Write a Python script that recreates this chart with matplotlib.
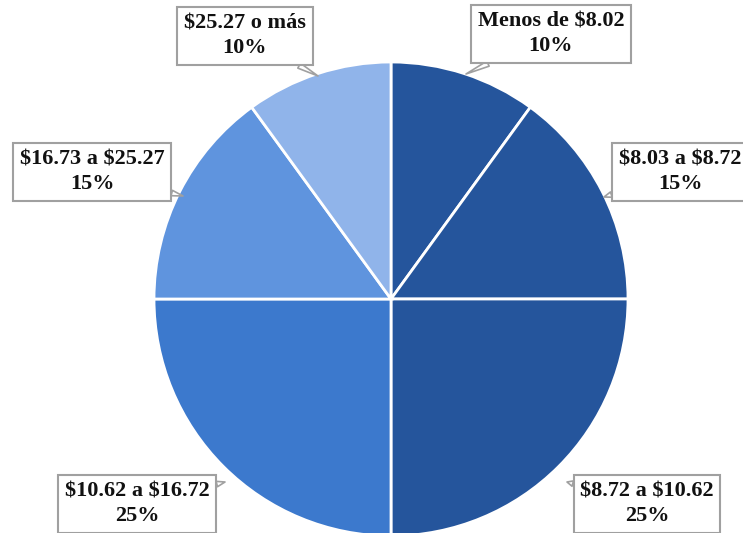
import matplotlib.pyplot as plt

# salary ranges and share of workers
labels = ['Menos de $8.02', '$8.03 a $8.72', '$8.72 a $10.62',
          '$10.62 a $16.72', '$16.73 a $25.27', '$25.27 o más']
values = [10, 15, 25, 25, 15, 10]
colors = ['#25559c', '#25559c', '#25559c', '#3c79cd', '#5f94de', '#90b4ea']

W, H = 743, 533
fig = plt.figure(figsize=(W / 100, H / 100), dpi=100)
ax = fig.add_axes([0, 0, 1, 1])

cx, cy, r = 391, H - 299, 237
ax.pie(values, colors=colors, startangle=90, counterclock=False,
       center=(cx, cy), radius=r, frame=True,
       wedgeprops=dict(edgecolor='white', linewidth=2))
ax.set_xlim(0, W)
ax.set_ylim(0, H)
ax.set_aspect('equal')
ax.axis('off')

# label box centres and the point on the pie each one points at (pixels, top-down)
text_pos = [(551, 34), (680, 172), (647, 504), (137, 504), (92, 172), (245, 36)]
tip_pos = [(466, 74), (604, 197), (567, 482), (225, 482), (183, 196), (318, 76)]

for lab, v, (tx, ty), (px, py) in zip(labels, values, text_pos, tip_pos):
    ax.annotate('%s\n%d%%' % (lab, v), xy=(px, H - py), xytext=(tx, H - ty),
                ha='center', va='center', fontsize=16, fontweight='bold',
                family='Liberation Serif', color='#111111', linespacing=1.3,
                parse_math=False,
                bbox=dict(boxstyle='square,pad=0.3', fc='white', ec='#a0a0a0', lw=1.5),
                arrowprops=dict(arrowstyle='wedge,tail_width=0.25', fc='white',
                                ec='#a0a0a0', lw=1.2, shrinkA=0, shrinkB=0))

plt.savefig('out.png', dpi=100)
